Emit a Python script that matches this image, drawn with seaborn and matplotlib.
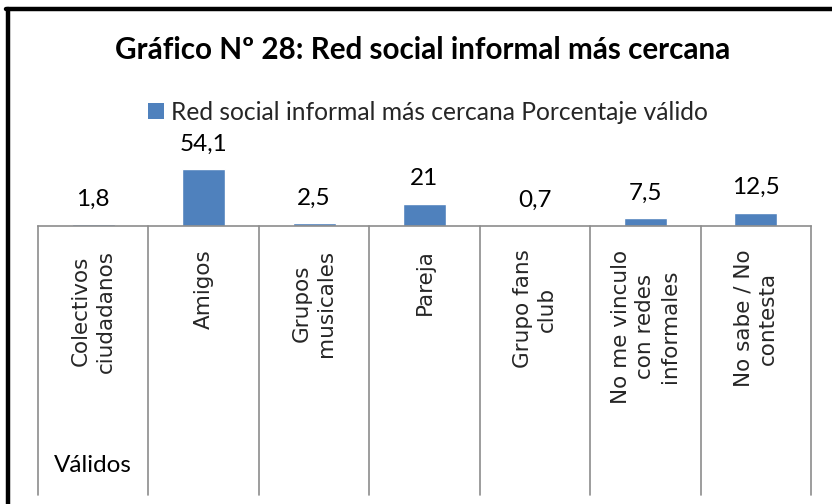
import matplotlib
matplotlib.use("Agg")
import matplotlib.pyplot as plt
import seaborn as sns
from matplotlib.lines import Line2D
from matplotlib.patches import Patch

# data
categorias = ["Colectivos\nciudadanos", "Amigos", "Grupos\nmusicales", "Pareja",
              "Grupo fans\nclub", "No me vinculo\ncon redes\ninformales",
              "No sabe / No\ncontesta"]
porcentajes = [1.8, 54.1, 2.5, 21.0, 0.7, 7.5, 12.5]
etiquetas = ["1,8", "54,1", "2,5", "21", "0,7", "7,5", "12,5"]
titulo = "Gráfico Nº 28: Red social informal más cercana"
serie = "Red social informal más cercana Porcentaje válido"
grupo = "Válidos"

azul = "#4F81BD"
gris = "#8C8C8C"

sns.set_style("white")
plt.rcParams["font.family"] = ["Lato", "DejaVu Sans"]

W, H = 832, 504
fig = plt.figure(figsize=(W / 100, H / 100), dpi=100)

# plot area in pixels (from the picture)
px_left, px_right, px_base, px_top = 38, 811, 226, 135
ax = fig.add_axes([px_left / W, 1 - px_base / H,
                   (px_right - px_left) / W, (px_base - px_top) / H])

sns.barplot(x=categorias, y=porcentajes, color=azul, width=0.39,
            saturation=1, ax=ax)
ax.set_xlim(-0.5, len(categorias) - 0.5)
ax.set_ylim(0, (px_base - px_top) / 1.053)
ax.set_xlabel("")
ax.set_ylabel("")
ax.set_yticks([])
for s in ["top", "left", "right"]:
    ax.spines[s].set_visible(False)
ax.spines["bottom"].set_color(gris)
ax.spines["bottom"].set_linewidth(1.2)

ax.bar_label(ax.containers[0], labels=etiquetas, padding=10.5, fontsize=17.5,
             color="#000000")

# rotated category labels
ax.tick_params(axis="x", length=0, pad=17)
for lbl in ax.get_xticklabels():
    lbl.set_rotation(90)
    lbl.set_fontsize(15.5)
    lbl.set_family("DejaVu Sans")
    lbl.set_multialignment("center")
    lbl.set_linespacing(1.3)

# category cell separators
def ay(py):
    return (px_base - py) / (px_base - px_top)

tr = ax.get_xaxis_transform()
for i in range(len(categorias) + 1):
    ax.plot([i - 0.5, i - 0.5], [ay(px_base), ay(495)], color=gris, lw=1.2,
            transform=tr, clip_on=False)

ax.text(0, ay(465), grupo, transform=tr, ha="center", va="center",
        fontsize=17.5, color="#000000")

# title and legend
fig.text(423 / W, 1 - 50 / H, titulo, ha="center", va="center",
         fontsize=21.3, fontweight="bold", color="#000000")
fig.legend(handles=[Patch(facecolor=azul, edgecolor="none", label=serie)],
           loc="center", bbox_to_anchor=(428 / W, 1 - 112 / H), frameon=False,
           fontsize=17.7, handlelength=0.65, handleheight=0.65,
           handletextpad=0.3, borderaxespad=0)

# thick outer frame: only the left and top edges are inside the picture
fig.add_artist(Line2D([8 / W, 8 / W], [0, 1 - 8.5 / H], color="black",
                      lw=3.2, transform=fig.transFigure))
fig.add_artist(Line2D([6 / W, 1], [1 - 8.5 / H, 1 - 8.5 / H], color="black",
                      lw=3.2, transform=fig.transFigure))

fig.savefig("out.png", dpi=100)
